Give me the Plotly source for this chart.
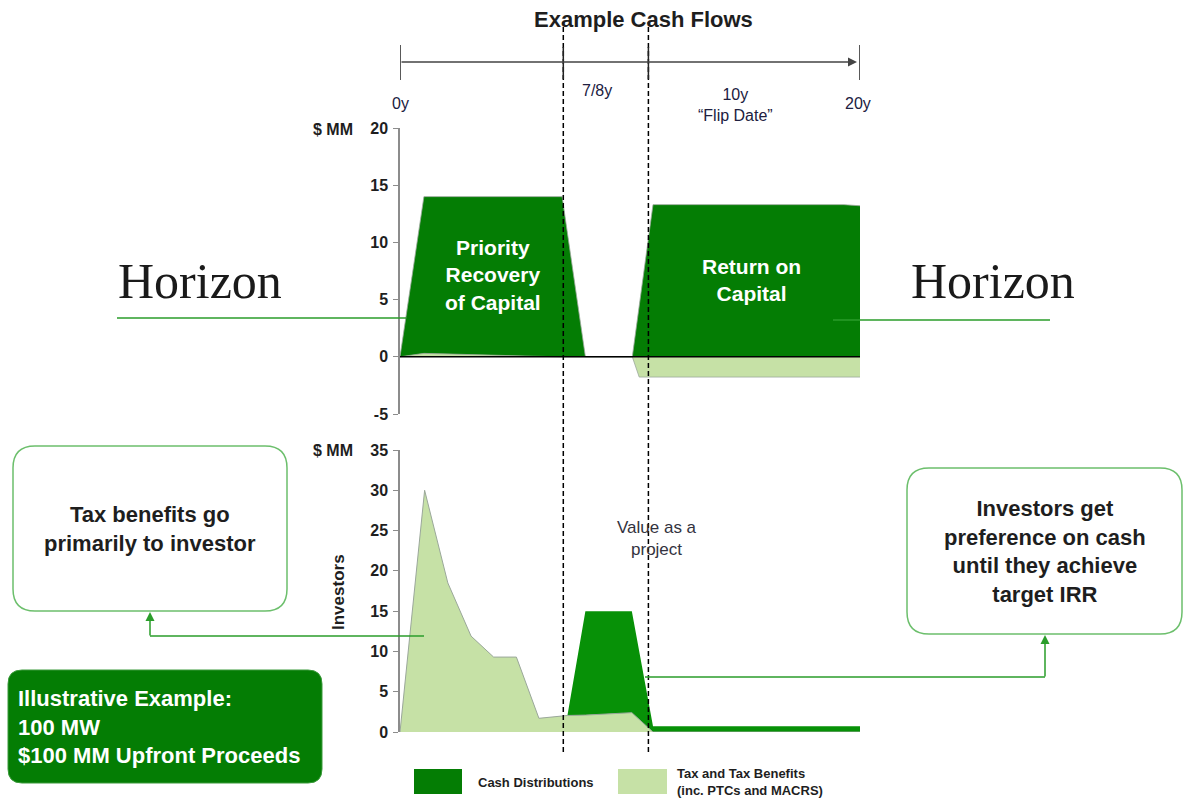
import plotly.graph_objects as go

# ---- page geometry helpers (pixels -> paper fractions) ----
W, H = 1183, 800


def px(x):
    return x / W


def py(y):
    return 1 - y / H


# ---- data: investor view, top panel (cash distributions vs tax) ----
top_cash_years = [0, 1.04, 7.05, 8.06, 10.1, 11.0, 19.3, 20.0]
top_cash_mm = [0, 14.0, 14.0, 0, 0, 13.3, 13.3, 13.2]

top_tax_years = [0, 1.04, 5.8, 7.05, 10.1, 10.4, 20.0]
top_tax_mm = [0, 0.3, 0.05, 0, 0, -1.77, -1.77]

# ---- data: bottom panel, stacked (tax benefits + cash distributions) ----
bot_years = [0, 1.07, 2.08, 3.09, 4.07, 5.06, 6.04, 7.04, 7.28, 8.06, 10.08, 11.0, 20.0]
bot_tax_mm = [0, 30.0, 18.5, 11.9, 9.3, 9.3, 1.7, 2.0, 2.05, 2.1, 2.4, 0, 0]
bot_cash_mm = [0, 0, 0, 0, 0, 0, 0, 0, 0, 12.9, 12.6, 0.7, 0.7]

# milestones on the timeline (years)
split_years = [7.1, 10.8]
timeline_labels = ["0y", "7/8y", "10y<br>\u201cFlip Date\u201d", "20y"]

top_ticks = [-5, 0, 5, 10, 15, 20]
bot_ticks = [0, 5, 10, 15, 20, 25, 30, 35]

DARK = "#047d04"
DARK2 = "#079107"
LIGHT = "#c6e1a6"
EDGE = "#9aa79a"
LINE_GREEN = "#2a9d2a"
FONT = "Liberation Sans, Arial, sans-serif"

fig = go.Figure()

# top panel
fig.add_trace(go.Scatter(
    x=top_cash_years, y=top_cash_mm, xaxis="x", yaxis="y",
    mode="lines", fill="tozeroy", fillcolor=DARK,
    line=dict(color=EDGE, width=0.8), hoverinfo="skip", showlegend=False))
fig.add_trace(go.Scatter(
    x=top_tax_years, y=top_tax_mm, xaxis="x", yaxis="y",
    mode="lines", fill="tozeroy", fillcolor=LIGHT,
    line=dict(color=EDGE, width=0.8), hoverinfo="skip", showlegend=False))

# bottom panel (stacked)
fig.add_trace(go.Scatter(
    x=bot_years, y=bot_tax_mm, xaxis="x2", yaxis="y2", stackgroup="inv",
    mode="lines", fillcolor=LIGHT, line=dict(color=EDGE, width=1),
    hoverinfo="skip", showlegend=False))
fig.add_trace(go.Scatter(
    x=bot_years, y=bot_cash_mm, xaxis="x2", yaxis="y2", stackgroup="inv",
    mode="lines", fillcolor=DARK2, line=dict(color=DARK2, width=0),
    hoverinfo="skip", showlegend=False))

yax_common = dict(
    showgrid=False, zeroline=False, showline=True, linecolor="#8c8c8c",
    linewidth=1.5, ticks="outside", ticklen=5, tickcolor="#8c8c8c",
    tickfont=dict(family=FONT, size=16, color="#1e1e1e", weight="bold"),
    ticklabelstandoff=2, fixedrange=True,
)

fig.update_layout(
    width=W, height=H,
    margin=dict(l=0, r=0, t=0, b=0, pad=0, autoexpand=False),
    paper_bgcolor="white", plot_bgcolor="rgba(0,0,0,0)",
    font=dict(family=FONT, color="#1e1e1e"),
    showlegend=False,
    xaxis=dict(domain=[px(400), px(860)], range=[0, 20], visible=False, anchor="y"),
    yaxis=dict(domain=[py(414), py(128)], range=[-5, 20], tickvals=top_ticks,
               ticktext=[str(t) for t in top_ticks], anchor="x", **yax_common),
    xaxis2=dict(domain=[px(400), px(860)], range=[0, 20], visible=False, anchor="y2"),
    yaxis2=dict(domain=[py(732), py(450)], range=[0, 35], tickvals=bot_ticks,
                ticktext=[str(t) for t in bot_ticks], anchor="x2", **yax_common),
)

shapes = []
annotations = []


def rounded_rect(x0, y0, x1, y1, r, fill, line_color, line_width):
    p = (f"M {px(x0 + r)},{py(y0)} L {px(x1 - r)},{py(y0)} "
         f"Q {px(x1)},{py(y0)} {px(x1)},{py(y0 + r)} L {px(x1)},{py(y1 - r)} "
         f"Q {px(x1)},{py(y1)} {px(x1 - r)},{py(y1)} L {px(x0 + r)},{py(y1)} "
         f"Q {px(x0)},{py(y1)} {px(x0)},{py(y1 - r)} L {px(x0)},{py(y0 + r)} "
         f"Q {px(x0)},{py(y0)} {px(x0 + r)},{py(y0)} Z")
    return dict(type="path", path=p, xref="paper", yref="paper",
                fillcolor=fill, line=dict(color=line_color, width=line_width),
                layer="above")


def hline(x0, x1, y, color, width=1.5, dash=None):
    return dict(type="line", xref="paper", yref="paper",
                x0=px(x0), x1=px(x1), y0=py(y), y1=py(y),
                line=dict(color=color, width=width, dash=dash))


def text(x, y, s, size, bold=False, color="#1e1e1e", xanchor="center",
         align="center", family=FONT, angle=0):
    annotations.append(dict(
        x=px(x), y=py(y), xref="paper", yref="paper", text=s, showarrow=False,
        xanchor=xanchor, yanchor="middle", align=align, textangle=angle,
        font=dict(family=family, size=size, color=color,
                  weight="bold" if bold else "normal")))


# zero line of the top panel
shapes.append(dict(type="line", xref="x", yref="y", x0=0, x1=20, y0=0, y1=0,
                   line=dict(color="black", width=1.5), layer="above"))

# milestone dashed verticals
for yr in split_years:
    shapes.append(dict(type="line", xref="x", yref="paper", x0=yr, x1=yr,
                       y0=py(752), y1=py(22),
                       line=dict(color="black", width=1.5, dash="5px,3px"),
                       layer="above"))

# timeline ticks
for yr in [0, 20]:
    shapes.append(dict(type="line", xref="x", yref="paper", x0=yr, x1=yr,
                       y0=py(80), y1=py(45), line=dict(color="#222", width=1.5)))
for yr in split_years:
    shapes.append(dict(type="line", xref="x", yref="paper", x0=yr, x1=yr,
                       y0=py(79), y1=py(47), line=dict(color="#222", width=1.5)))

# timeline arrow
annotations.append(dict(x=px(857), y=py(62), xref="paper", yref="paper",
                        ax=-457, ay=0, axref="pixel", ayref="pixel",
                        showarrow=True, arrowhead=2, arrowsize=1.2,
                        arrowwidth=1.5, arrowcolor="#444", text=""))

# horizon lines
shapes.append(hline(117, 406, 318, LINE_GREEN, 1.5))
shapes.append(hline(833, 1050, 320, LINE_GREEN, 1.5))

# callout boxes
shapes.append(rounded_rect(13, 446, 287, 611, 22, "white", "#6cbf6c", 1.5))
shapes.append(rounded_rect(907, 468, 1182, 634, 22, "white", "#6cbf6c", 1.5))
shapes.append(rounded_rect(8, 670, 322, 783, 14, DARK, "#3a9a3a", 1))

# connectors
shapes.append(hline(150, 424, 636, LINE_GREEN, 1.5))
shapes.append(hline(645, 1045, 677, LINE_GREEN, 1.5))
annotations.append(dict(x=px(150), y=py(612), xref="paper", yref="paper",
                        ax=0, ay=25, showarrow=True, arrowhead=2, arrowsize=1.2,
                        arrowwidth=1.5, arrowcolor=LINE_GREEN, text=""))
annotations.append(dict(x=px(1045), y=py(635), xref="paper", yref="paper",
                        ax=0, ay=43, showarrow=True, arrowhead=2, arrowsize=1.2,
                        arrowwidth=1.5, arrowcolor=LINE_GREEN, text=""))

# legend swatches
shapes.append(dict(type="rect", xref="paper", yref="paper",
                   x0=px(414), x1=px(462), y0=py(794), y1=py(769),
                   fillcolor=DARK, line=dict(width=0)))
shapes.append(dict(type="rect", xref="paper", yref="paper",
                   x0=px(618), x1=px(667), y0=py(794), y1=py(769),
                   fillcolor=LIGHT, line=dict(width=0)))

# texts
text(643, 19, "Example Cash Flows", 22, bold=True)
text(400, 103, timeline_labels[0], 16, color="#202040")
text(597, 90, timeline_labels[1], 16, color="#202040")
text(735, 105, timeline_labels[2], 16, color="#202040")
text(858, 103, timeline_labels[3], 16, color="#202040")

text(333, 129, "$ MM", 16, bold=True)
text(333, 450, "$ MM", 16, bold=True)
text(338, 592, "Investors", 17, bold=True, angle=-90)

text(200, 281, "Horizon", 50, family="Liberation Serif, Times New Roman, serif",
     color="#1a1a1a")
text(993, 281, "Horizon", 50, family="Liberation Serif, Times New Roman, serif",
     color="#1a1a1a")

text(493, 275, "Priority<br>Recovery<br>of Capital", 21, bold=True, color="white")
text(751, 280, "Return on<br>Capital", 21, bold=True, color="white")

text(657, 538, "Value as a<br>project", 17, color="#333340")

text(150, 529, "Tax benefits go<br>primarily to investor", 22, bold=True)
text(1045, 551, "Investors get<br>preference on cash<br>until they achieve<br>target IRR",
     22, bold=True)

text(16, 727, "Illustrative Example:<br>100 MW<br>$100 MM Upfront Proceeds",
     22, bold=True, color="white", xanchor="left", align="left")

text(476, 782, "Cash Distributions", 13, bold=True, xanchor="left")
text(675, 782, "Tax and Tax Benefits<br>(inc. PTCs and MACRS)", 13, bold=True,
     xanchor="left", align="left")

fig.update_layout(shapes=shapes, annotations=annotations)

# the figure has a fixed 1183x800 size; drop the page's default body margin
fig.write_html(
    "out.html",
    post_script="document.body.style.margin='0';document.body.style.overflow='hidden';",
)
